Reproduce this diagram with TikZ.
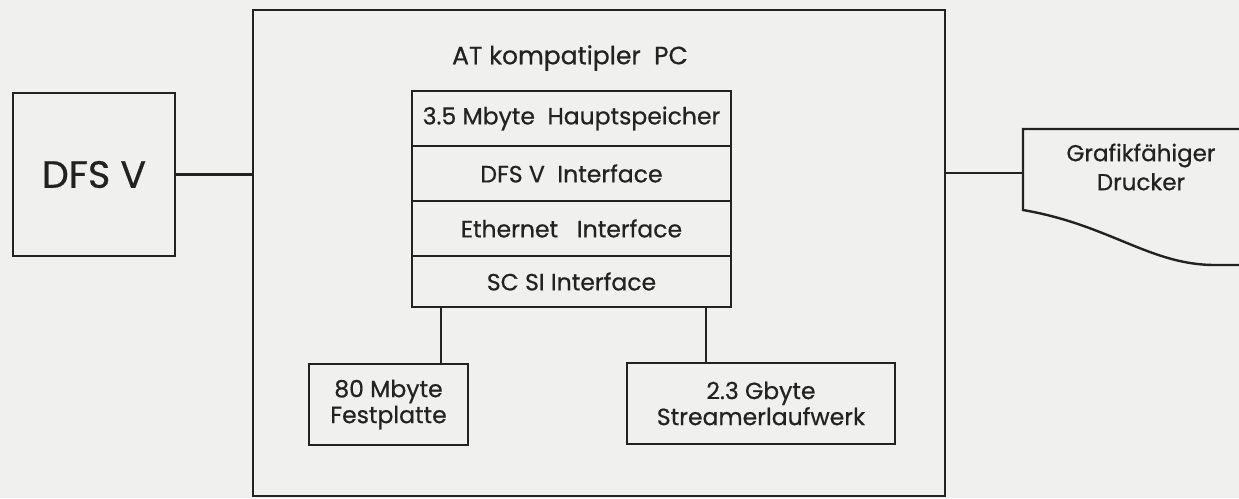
\documentclass[tikz,border=0pt]{standalone}
\usepackage{fontspec}
\setmainfont{Poppins}[FakeBold=0.6]
\definecolor{paper}{RGB}{240,240,238}
\definecolor{ink}{RGB}{34,34,34}
\tikzset{
  box/.style={draw=ink, line width=2.4pt, rectangle, inner sep=0pt, outer sep=0pt, text=ink, align=center},
  row/.style={box, minimum width=319pt, minimum height=55pt, font=\fontsize{23.5}{28}\selectfont},
  label/.style={text=ink, inner sep=0pt, align=center},
  wire/.style={draw=ink, line width=2.4pt}
}
\begin{document}
\begin{tikzpicture}[x=1pt,y=-1pt]
\fill[paper] (0,0) rectangle (1239,498);
\useasboundingbox (0,0) rectangle (1239,498);
% PC frame
\node[box, minimum width=692pt, minimum height=486pt] (pc) at (599,253) {};
\node[label, font=\fontsize{25}{28}\selectfont] (title) at (570,58) {AT kompatipler\ \ PC};
% stack
\node[row] (ram) at (571.5,118.5) {3.5 Mbyte\ \ Hauptspeicher};
\node[row, anchor=north] (dfsif) at (ram.south) {DFS V\ \ Interface};
\node[row, anchor=north] (eth) at (dfsif.south) {Ethernet\ \ \ Interface};
\node[row, anchor=north, minimum height=51pt] (scsi) at (eth.south) {SC SI Interface};
% DFS V
\node[box, minimum width=162pt, minimum height=163pt, font=\fontsize{38}{44}\selectfont] (dfs) at (94,174.5) {DFS V};
% drives
\node[box, minimum width=159pt, minimum height=81pt, font=\fontsize{23.5}{26}\selectfont] (fest) at (388.5,404.5) {80 Mbyte\\Festplatte};
\node[box, minimum width=268pt, minimum height=81pt, font=\fontsize{23.5}{26}\selectfont] (stream) at (761,403.5) {2.3 Gbyte\\Streamerlaufwerk};
% printer
\node[inner sep=0pt, minimum width=216pt, minimum height=88pt] (printer) at (1131,173) {};
\node[label, font=\fontsize{23}{29}\selectfont] (ptext) at (1141,167) {Grafikfähiger\\Drucker};
\draw[wire, line join=miter] (1241,129) -- (1023,129) -- (1023,210)
  .. controls (1110,225) and (1150,265) .. (1215,265) -- (1241,265);
% connectors
\draw[wire] (dfs.east) -- (dfs.east -| pc.west);
\draw[wire] (printer.west -| pc.east) -- (printer.west);
\coordinate (sl) at ([xshift=29pt]scsi.south west);
\coordinate (sr) at ([xshift=-25pt]scsi.south east);
\draw[wire] (sl) -- (sl |- fest.north);
\draw[wire] (sr) -- (sr |- stream.north);
\end{tikzpicture}
\end{document}
